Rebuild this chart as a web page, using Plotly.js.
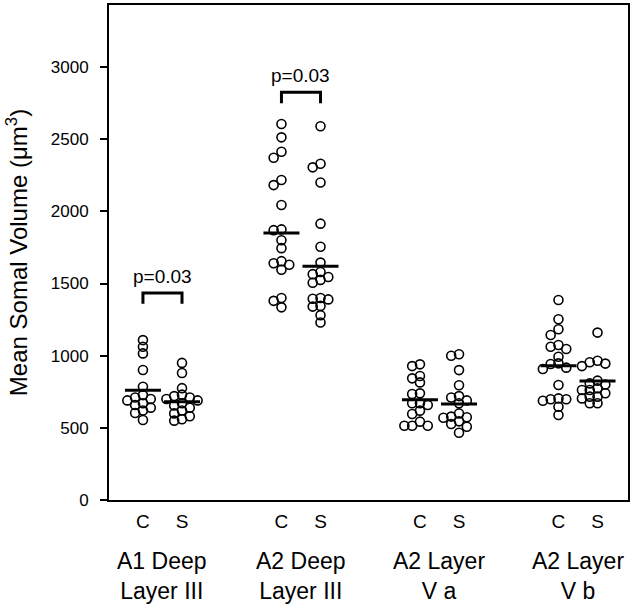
<!DOCTYPE html>
<html>
<head>
<meta charset="utf-8">
<script src="https://cdn.plot.ly/plotly-3.0.1.min.js"></script>
<style>html,body{margin:0;padding:0;background:#fff;}</style>
</head>
<body>
<div id="chart" style="width:638px;height:611px;"></div>
<script>
// ---- data ----
const groupLabels = ["A1 Deep<br>Layer III", "A2 Deep<br>Layer III", "A2 Layer<br>V a", "A2 Layer<br>V b"];
const condLabels = ["C", "S"];

const a1DeepIII_C = [1108, 1062, 1016, 901, 785, 727, 710, 700, 690, 670, 658, 640, 620, 603, 554];
const a1DeepIII_S = [950, 880, 775, 730, 720, 710, 700, 690, 670, 655, 640, 620, 600, 580, 560, 550];
const a2DeepIII_C = [2605, 2513, 2413, 2372, 2217, 2182, 2044, 1875, 1870, 1800, 1745, 1655, 1640, 1630, 1595, 1400, 1380, 1335];
const a2DeepIII_S = [2590, 2330, 2305, 2200, 1915, 1755, 1645, 1580, 1565, 1545, 1525, 1505, 1400, 1395, 1390, 1345, 1340, 1280, 1230];
const a2LayerVa_C = [940, 928, 859, 843, 815, 739, 734, 670, 670, 658, 619, 596, 543, 515, 515, 515];
const a2LayerVa_S = [1010, 1000, 900, 795, 720, 710, 690, 670, 600, 578, 573, 570, 545, 527, 508, 466];
const a2LayerVb_C = [1386, 1252, 1183, 1143, 1074, 1062, 1046, 993, 947, 942, 917, 908, 797, 704, 698, 698, 688, 646, 589];
const a2LayerVb_S = [1160, 965, 955, 945, 928, 827, 808, 800, 774, 762, 762, 740, 716, 716, 704, 670, 670];

const meansC = [760, 1850, 695, 930];
const meansS = [680, 1620, 665, 825];

// significance brackets: group index, bracket top value, leg bottom value, label
const sigGroups = [0, 1];
const sigTop = [1434, 2825];
const sigLeg = [1360, 2750];
const sigText = ["p=0.03", "p=0.03"];

const yTicks = [0, 500, 1000, 1500, 2000, 2500, 3000];

// ---- layout constants ----
const W = 638, H = 611;
const M = {l: 109, r: 10, t: 5, b: 111};
const xRange = [0.614, 4.361];
const yRange = [0, 3430];
const pairOff = 0.141;
const plotW = W - M.l - M.r, plotH = H - M.t - M.b;
const pxX = plotW / (xRange[1] - xRange[0]);
const pxY = plotH / (yRange[1] - yRange[0]);

const seriesC = [a1DeepIII_C, a2DeepIII_C, a2LayerVa_C, a2LayerVb_C];
const seriesS = [a1DeepIII_S, a2DeepIII_S, a2LayerVa_S, a2LayerVb_S];

// simple beeswarm placement (pixel based)
function swarm(vals) {
  const slot = 7.8, minD = 6.2;
  const placed = [], offs = [];
  vals.forEach(v => {
    const y = v * pxY;
    let chosen = 0;
    for (const k of [0, -1, 1, -2, 2, -3, 3]) {
      const x = k * slot;
      if (placed.every(p => Math.hypot(p.x - x, p.y - y) >= minD)) { chosen = x; break; }
    }
    placed.push({x: chosen, y});
    offs.push(chosen / pxX);
  });
  return offs;
}

const traces = [];
const tickVals = [], tickText = [];
for (let g = 0; g < 4; g++) {
  [[seriesC[g], -pairOff, meansC[g], 0], [seriesS[g], pairOff, meansS[g], 1]].forEach(([vals, off, mean, ci]) => {
    const cx = (g + 1) + off;
    tickVals.push(cx); tickText.push(condLabels[ci]);
    const offs = swarm(vals);
    traces.push({
      type: 'scatter', mode: 'markers',
      x: vals.map((v, i) => cx + offs[i]), y: vals,
      marker: {symbol: 'circle-open', size: 9, color: '#000', line: {width: 1.6, color: '#000'}},
      hoverinfo: 'y', showlegend: false
    });
    traces.push({
      type: 'scatter', mode: 'lines',
      x: [cx - 0.13, cx + 0.13], y: [mean, mean],
      line: {color: '#000', width: 3}, hoverinfo: 'skip', showlegend: false
    });
  });
}

const shapes = [], annotations = [];
sigGroups.forEach((g, i) => {
  const x0 = (g + 1) - pairOff, x1 = (g + 1) + pairOff;
  shapes.push({
    type: 'path', xref: 'x', yref: 'y',
    path: `M ${x0} ${sigLeg[i]} L ${x0} ${sigTop[i]} L ${x1} ${sigTop[i]} L ${x1} ${sigLeg[i]}`,
    line: {color: '#000', width: 3}
  });
  annotations.push({
    xref: 'x', yref: 'y', x: g + 1, y: sigTop[i], yanchor: 'bottom', yshift: 4,
    text: sigText[i], showarrow: false,
    font: {family: 'Liberation Sans, Arial, sans-serif', size: 19, color: '#000'}
  });
});
groupLabels.forEach((lab, g) => {
  annotations.push({
    xref: 'x', yref: 'paper', x: g + 1, y: -0.093, yanchor: 'top',
    text: lab, showarrow: false,
    font: {family: 'Liberation Sans, Arial, sans-serif', size: 23, color: '#000'}
  });
});

const layout = {
  width: W, height: H,
  margin: M,
  paper_bgcolor: '#fff', plot_bgcolor: '#fff',
  font: {family: 'Liberation Sans, Arial, sans-serif', color: '#000'},
  xaxis: {
    range: xRange, showgrid: false, zeroline: false,
    showline: true, mirror: true, linecolor: '#000', linewidth: 2,
    tickmode: 'array', tickvals: tickVals, ticktext: tickText, ticks: '',
    tickfont: {size: 19, color: '#000'}, ticklabelstandoff: 3
  },
  yaxis: {
    range: yRange, showgrid: false, zeroline: false,
    showline: true, mirror: true, linecolor: '#000', linewidth: 2,
    tickmode: 'array', tickvals: yTicks, ticks: 'outside', ticklen: 7, tickwidth: 2, tickcolor: '#000',
    tickfont: {size: 17, color: '#000'}, ticklabelstandoff: 8,
    title: {text: 'Mean Somal Volume (μm<sup>3</sup>)', font: {size: 24, color: '#000'}, standoff: 16}
  },
  shapes: shapes,
  annotations: annotations
};

Plotly.newPlot('chart', traces, layout, {displayModeBar: false, staticPlot: true});
</script>
</body>
</html>
